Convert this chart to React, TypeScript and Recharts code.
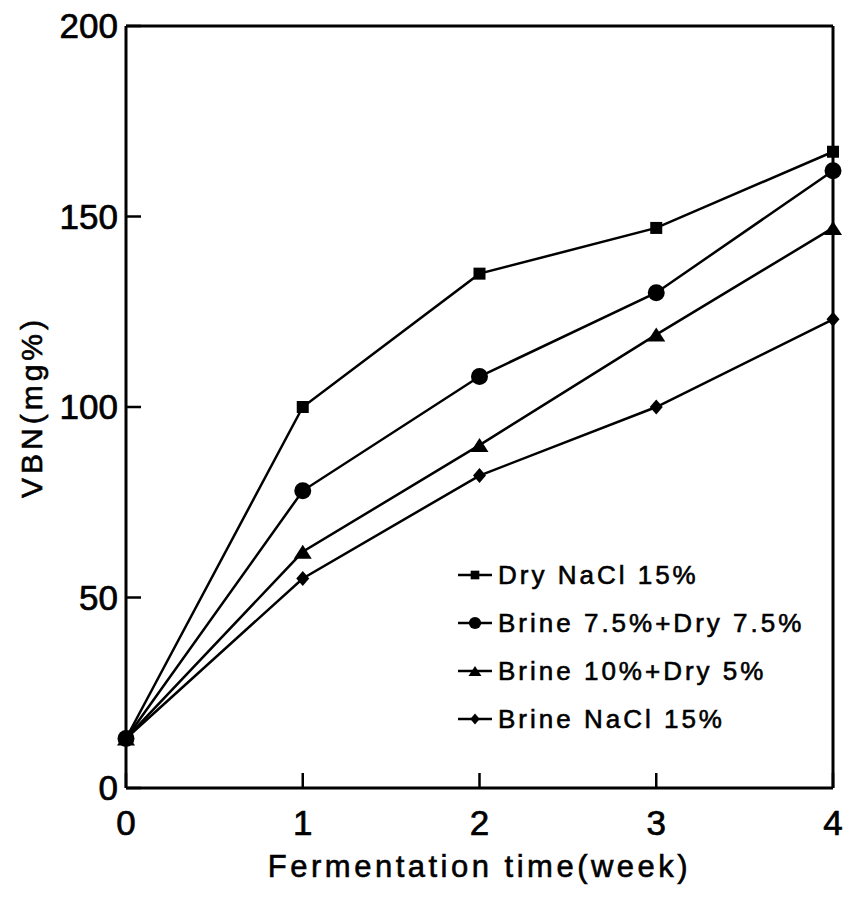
import React from 'react';
import { LineChart, Line, XAxis, YAxis, Legend, ReferenceLine } from 'recharts';

const weeks = [0, 1, 2, 3, 4];
const dryNaCl = [13, 100, 135, 147, 167];
const brine75Dry75 = [13, 78, 108, 130, 162];
const brine10Dry5 = [13, 62, 90, 119, 147];
const brineNaCl = [13, 55, 82, 100, 123];

const yTicks = [0, 50, 100, 150, 200];

const seriesList = [
  { key: 'dry', name: 'Dry NaCl 15%', shape: 'square', values: dryNaCl },
  { key: 'b75', name: 'Brine 7.5%+Dry 7.5%', shape: 'circle', values: brine75Dry75 },
  { key: 'b10', name: 'Brine 10%+Dry 5%', shape: 'triangle', values: brine10Dry5 },
  { key: 'brine', name: 'Brine NaCl 15%', shape: 'diamond', values: brineNaCl },
];

const data = weeks.map((w, i) => {
  const row: any = { week: w };
  seriesList.forEach(s => { row[s.key] = s.values[i]; });
  return row;
});

const FONT = '"Liberation Sans", Arial, Helvetica, sans-serif';

function Marker({ shape, cx, cy, scale = 1 }: { shape: string; cx: number; cy: number; scale?: number }) {
  if (shape === 'square') {
    const h = 6 * scale;
    return <rect x={cx - h} y={cy - h} width={h * 2} height={h * 2} fill="#000" />;
  }
  if (shape === 'circle') {
    return <circle cx={cx} cy={cy} r={8.5 * scale} fill="#000" />;
  }
  if (shape === 'triangle') {
    const w = 9 * scale;
    const h = 7 * scale;
    return <polygon points={`${cx},${cy - h} ${cx + w},${cy + h} ${cx - w},${cy + h}`} fill="#000" />;
  }
  const w = 6.5 * scale;
  const h = 7.5 * scale;
  return <polygon points={`${cx},${cy - h} ${cx + w},${cy} ${cx},${cy + h} ${cx - w},${cy}`} fill="#000" />;
}

const makeDot = (shape: string) => (props: any) => {
  const { cx, cy, index } = props;
  if (cx == null || cy == null) return <g key={`e-${index}`} />;
  return <Marker key={`${shape}-${index}`} shape={shape} cx={cx} cy={cy} />;
};

const LegendBox = () => (
  <div
    style={{
      fontFamily: FONT,
      fontSize: 26,
      letterSpacing: 3,
      color: '#000',
      WebkitTextStroke: '0.6px #000',
    }}
  >
    {seriesList.map(s => (
      <div key={s.key} style={{ display: 'flex', alignItems: 'center', height: 48, whiteSpace: 'nowrap' }}>
        <svg width={38} height={20} style={{ flex: 'none' }}>
          <line x1={2} y1={10} x2={36} y2={10} stroke="#000" strokeWidth={2.5} />
          <Marker shape={s.shape} cx={19} cy={10} scale={0.72} />
        </svg>
        <span style={{ marginLeft: 4 }}>{s.name}</span>
      </div>
    ))}
  </div>
);

const YLabel = (props: any) => {
  const vb = props.viewBox || {};
  const cx = 31;
  const cy = (vb.y || 0) + (vb.height || 0) / 2;
  return (
    <text
      x={cx}
      y={cy}
      transform={`rotate(-90, ${cx}, ${cy})`}
      textAnchor="middle"
      dominantBaseline="central"
      fontFamily={FONT}
      fontSize={30}
      letterSpacing={4}
      fill="#000"
      stroke="#000"
      strokeWidth={0.6}
    >
      VBN(mg%)
    </text>
  );
};

const tickStyle = { fill: '#000', fontSize: 35, fontFamily: FONT, stroke: '#000', strokeWidth: 0.7 };

export default function App() {
  return (
    <div style={{ position: 'absolute', left: 0, top: 0, background: '#fff' }}>
      <LineChart width={846} height={914} data={data} margin={{ top: 26, right: 13, bottom: 0, left: 0 }}>
        <XAxis
          type="number"
          dataKey="week"
          domain={[0, 4]}
          ticks={weeks}
          height={126}
          axisLine={{ stroke: '#000', strokeWidth: 3 }}
          tickLine={{ stroke: '#000', strokeWidth: 2.5 }}
          tickSize={-15}
          tickMargin={37}
          tick={tickStyle}
          label={{
            value: 'Fermentation time(week)',
            position: 'insideBottom',
            offset: 37,
            style: { fill: '#000', fontSize: 31, fontFamily: FONT, letterSpacing: 3.5, stroke: '#000', strokeWidth: 0.6 },
          }}
        />
        <YAxis
          type="number"
          domain={[0, 200]}
          ticks={yTicks}
          width={126}
          axisLine={{ stroke: '#000', strokeWidth: 3 }}
          tickLine={{ stroke: '#000', strokeWidth: 2.5 }}
          tickSize={-15}
          tickMargin={23}
          tick={tickStyle}
          label={{ content: YLabel }}
        />
        <ReferenceLine y={200} stroke="#000" strokeWidth={3} />
        <ReferenceLine x={4} stroke="#000" strokeWidth={3} />
        <Legend
          layout="vertical"
          align="center"
          verticalAlign="middle"
          content={<LegendBox />}
          wrapperStyle={{ left: 456, top: 551, width: 'auto' }}
        />
        {seriesList.map(s => (
          <Line
            key={s.key}
            type="linear"
            dataKey={s.key}
            name={s.name}
            stroke="#000"
            strokeWidth={2.5}
            dot={makeDot(s.shape)}
            activeDot={false}
            isAnimationActive={false}
          />
        ))}
      </LineChart>
    </div>
  );
}
